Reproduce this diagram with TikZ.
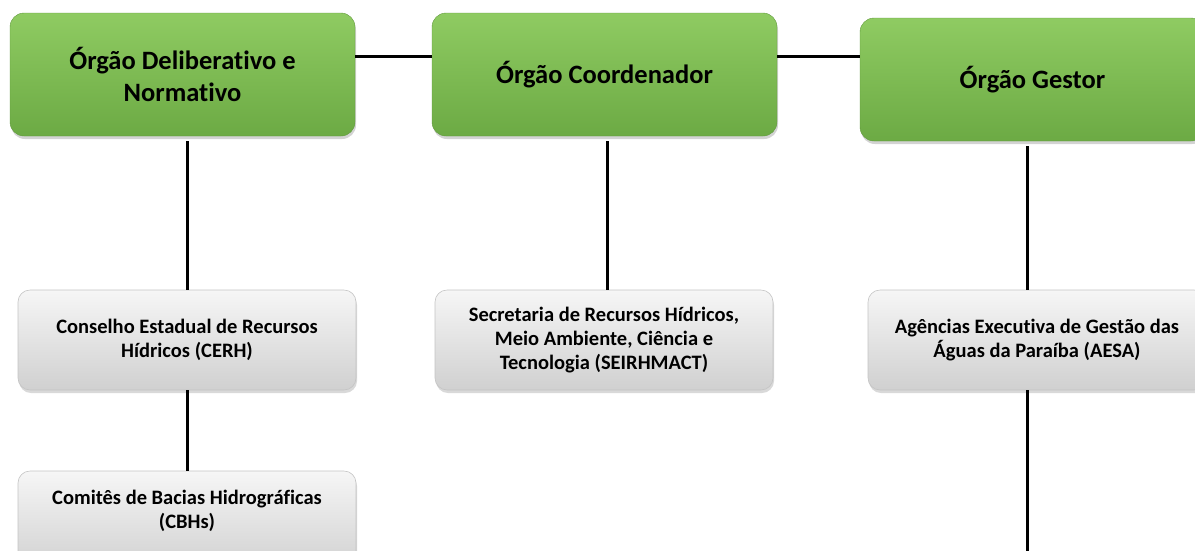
\documentclass[tikz,border=0pt]{standalone}
\usepackage{fontspec}
\setmainfont{Carlito}[Ligatures=NoCommon]
\usetikzlibrary{positioning,shadows}

\definecolor{verdetopo}{HTML}{8FCB62}
\definecolor{verdebase}{HTML}{6CAA44}
\definecolor{cinzatopo}{HTML}{F6F6F6}
\definecolor{cinzabase}{HTML}{D0D0D0}
\definecolor{cinzaborda}{HTML}{C4C4C4}

\begin{document}
\begin{tikzpicture}[x=1pt,y=-1pt,
  orgao/.style={rectangle, rounded corners=14pt, minimum width=345pt, minimum height=123pt,
    top color=verdetopo, bottom color=verdebase, draw=verdebase!90!black, line width=0.4pt,
    drop shadow={opacity=0.35, shadow xshift=1pt, shadow yshift=-3pt},
    align=center, font=\bfseries\fontsize{26.5}{32}\selectfont},
  entidade/.style={rectangle, rounded corners=12pt, minimum width=338pt, minimum height=100pt,
    top color=cinzatopo, bottom color=cinzabase, draw=cinzaborda, line width=0.6pt,
    drop shadow={opacity=0.3, shadow xshift=1pt, shadow yshift=-3pt},
    align=center, font=\bfseries\fontsize{20.5}{24}\selectfont},
  ligacao/.style={draw=black, line width=3pt}]
\useasboundingbox (0,0) rectangle (1195,550);

% orgaos
\node[orgao] (deliberativo) at (182.5,74.5) {Órgão Deliberativo e\\Normativo};
\node[orgao] (coordenador) at (604.5,74.5) {Órgão Coordenador};
\node[orgao] (gestor) at (1032.5,79.5) {Órgão Gestor};

% entidades
\node[entidade] (cerh) at (187,340) {Conselho Estadual de Recursos\\Hídricos (CERH)};
\node[entidade] (cbh) at (187,521) {Comitês de Bacias Hidrográficas\\(CBHs)\\\mbox{}};
\node[entidade] (seirhmact) at (604,340) {Secretaria de Recursos Hídricos,\\Meio Ambiente, Ciência e\\Tecnologia (SEIRHMACT)};
\node[entidade] (aesa) at (1037,340) {Agências Executiva de Gestão das\\Águas da Paraíba (AESA)};
\coordinate (coordeixo) at (607,0);
\coordinate (aesabaixo) at (1027,560);

% ligacoes
\draw[ligacao] ([yshift=18.5pt]deliberativo.east) -- ([yshift=18.5pt]deliberativo.east -| coordenador.west);
\draw[ligacao] ([yshift=18.5pt]coordenador.east) -- ([yshift=18.5pt]coordenador.east -| gestor.west);
\draw[ligacao] (cerh.north) -- ([yshift=-5pt]cerh.north |- deliberativo.south);
\draw[ligacao] (cerh.south) -- (cbh.north);
\draw[ligacao] (coordeixo |- seirhmact.north) -- ([yshift=-5pt]coordeixo |- coordenador.south);
\draw[ligacao] (aesabaixo |- aesa.north) -- ([yshift=-5pt]aesabaixo |- gestor.south);
\draw[ligacao] (aesabaixo |- aesa.south) -- (aesabaixo);
\end{tikzpicture}
\end{document}
